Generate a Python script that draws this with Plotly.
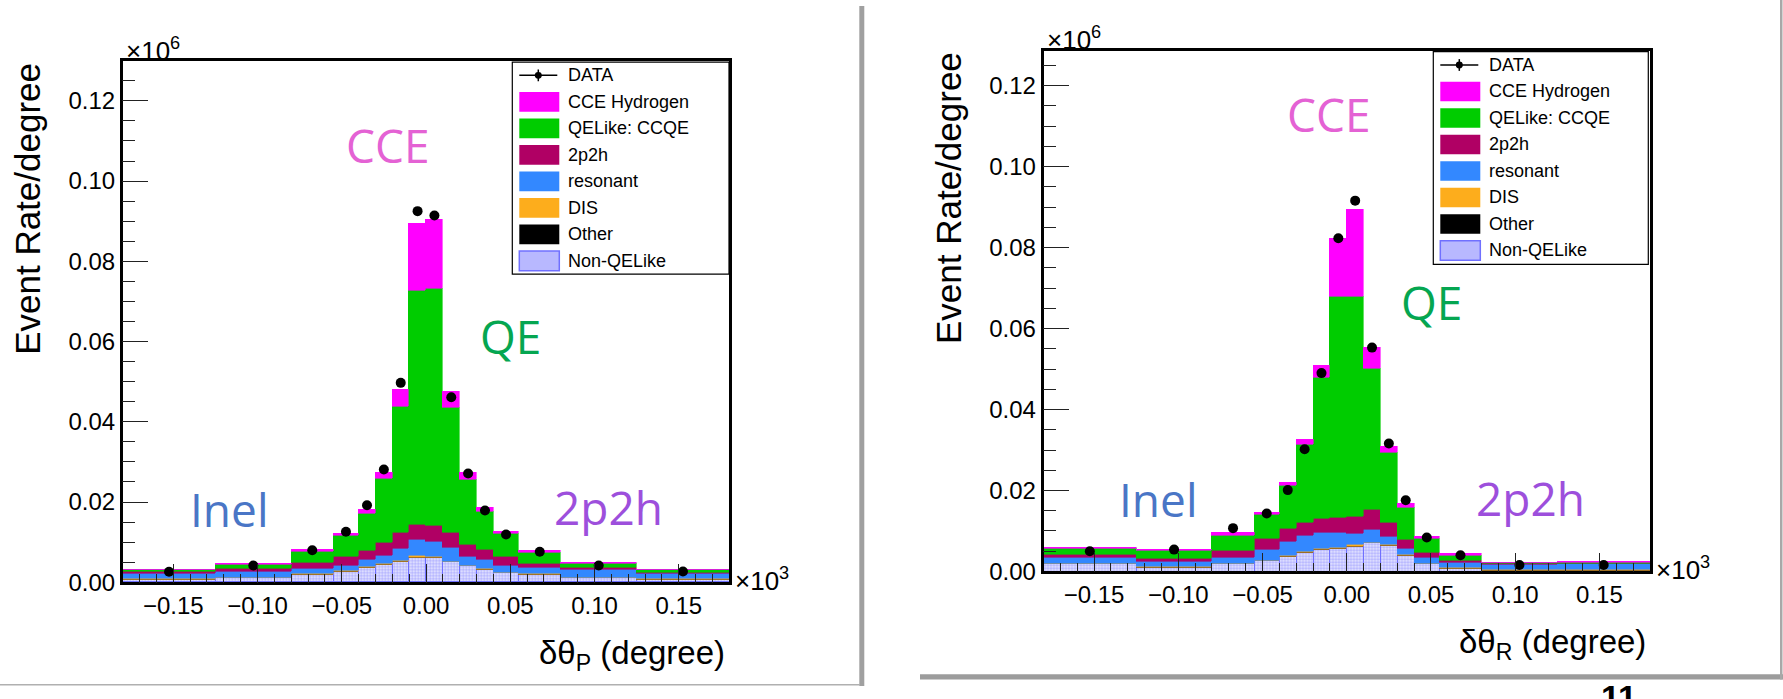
import plotly.graph_objects as go

W, H = 1783, 699

# ---------------- data ----------------
bin_edges = [-0.18, -0.125, -0.08, -0.055, -0.04, -0.03, -0.02, -0.01, 0.0,
             0.01, 0.02, 0.03, 0.04, 0.055, 0.08, 0.125, 0.18]
x_ticks = [-0.15, -0.10, -0.05, 0.0, 0.05, 0.10, 0.15]

# left panel: delta theta_P
p_data = [0.0026, 0.0042, 0.0080, 0.0126, 0.0192, 0.0281, 0.0497, 0.0925,
          0.0914, 0.0461, 0.0271, 0.0179, 0.0119, 0.0076, 0.0042, 0.0027]
p_nonqe = [0.0008, 0.0012, 0.0020, 0.0028, 0.0037, 0.0045, 0.0053, 0.0063,
           0.0061, 0.0051, 0.0041, 0.0033, 0.0024, 0.0020, 0.0012, 0.0008]
p_other = [0.00002, 0.00002, 0.00002, 0.00002, 0.00002, 0.00002, 0.00002, 0.00002,
           0.00002, 0.00002, 0.00002, 0.00002, 0.00002, 0.00002, 0.00002, 0.00002]
p_dis = [0.0001, 0.0001, 0.0001, 0.0001, 0.0002, 0.0002, 0.0002, 0.0003,
         0.0003, 0.0002, 0.0002, 0.0002, 0.0001, 0.0001, 0.0001, 0.0001]
p_res = [0.00128, 0.00148, 0.00138, 0.00138, 0.00178, 0.00198, 0.00298, 0.00398,
         0.00388, 0.00338, 0.00218, 0.00218, 0.00178, 0.00158, 0.00178, 0.00128]
p_2p2h = [0.0005, 0.0006, 0.0014, 0.0021, 0.0022, 0.0032, 0.0039, 0.0039,
          0.0039, 0.0038, 0.0030, 0.0024, 0.0022, 0.0010, 0.0006, 0.0004]
p_ccqe = [0.0004, 0.0011, 0.0028, 0.0052, 0.0092, 0.0159, 0.0314, 0.0582,
          0.0591, 0.0310, 0.0161, 0.0097, 0.0056, 0.0028, 0.0009, 0.0005]
p_cce = [0.0002, 0.0002, 0.0004, 0.0006, 0.0011, 0.0017, 0.0042, 0.0167,
         0.0172, 0.0042, 0.0019, 0.0009, 0.0006, 0.0004, 0.0003, 0.0002]

# right panel: delta theta_R
r_data = [0.0050, 0.0054, 0.0107, 0.0143, 0.0201, 0.0302, 0.0490, 0.0823,
          0.0916, 0.0553, 0.0316, 0.0176, 0.0084, 0.0040, 0.0016, 0.0016]
r_nonqe = [0.0018, 0.0010, 0.0018, 0.0026, 0.0036, 0.0046, 0.0054, 0.0056,
           0.0062, 0.0070, 0.0064, 0.0038, 0.0018, 0.0007, 0.0002, 0.0002]
r_other = [0.00002, 0.00002, 0.00002, 0.00002, 0.00002, 0.00002, 0.00002, 0.00002,
           0.00002, 0.00002, 0.00002, 0.00002, 0.00002, 0.00002, 0.00002, 0.00002]
r_dis = [0.0001, 0.0001, 0.0001, 0.0001, 0.0002, 0.0002, 0.0002, 0.0003,
         0.0003, 0.0002, 0.0002, 0.0002, 0.0001, 0.0001, 0.0001, 0.0001]
r_res = [0.00158, 0.00128, 0.00148, 0.00268, 0.00348, 0.00398, 0.00398, 0.00358,
         0.00278, 0.00318, 0.00198, 0.00158, 0.00148, 0.00138, 0.00138, 0.00148]
r_2p2h = [0.0007, 0.0008, 0.0016, 0.0026, 0.0032, 0.0033, 0.0034, 0.0038,
          0.0043, 0.0049, 0.0034, 0.0022, 0.0012, 0.0005, 0.0002, 0.0002]
r_ccqe = [0.0014, 0.0019, 0.0039, 0.0059, 0.0107, 0.0192, 0.0348, 0.0545,
          0.0542, 0.0347, 0.0174, 0.0080, 0.0035, 0.0013, 0.0002, 0.0002]
r_cce = [0.0002, 0.0003, 0.0006, 0.0006, 0.0008, 0.0012, 0.0029, 0.0145,
         0.0215, 0.0052, 0.0015, 0.0009, 0.0004, 0.0004, 0.0001, 0.0001]

legend_labels = ["DATA", "CCE Hydrogen", "QELike: CCQE", "2p2h", "resonant",
                 "DIS", "Other", "Non-QELike"]

# ---------------- styles ----------------
FONT = "Liberation Sans, Arial, Helvetica, sans-serif"
C_CCE = "#ff00ff"
C_CCQE = "#00cc00"
C_2P2H = "#b00064"
C_RES = "#3388ff"
C_DIS = "#fdad1c"
C_OTHER = "#000000"
C_NQE_LINE = "#7070ff"

centers = [(a + b) / 2 for a, b in zip(bin_edges[:-1], bin_edges[1:])]
widths = [b - a for a, b in zip(bin_edges[:-1], bin_edges[1:])]


def px(x):
    return x / W


def py(y):
    return 1 - y / H


fig = go.Figure()


def add_panel(xa, ya, data, nonqe, other, dis, res, t2p2h, ccqe, cce):
    layers = [
        (nonqe, "white", True),
        (other, C_OTHER, False),
        (dis, C_DIS, False),
        (res, C_RES, False),
        (t2p2h, C_2P2H, False),
        (ccqe, C_CCQE, False),
        (cce, C_CCE, False),
    ]
    for vals, col, hatched in layers:
        if hatched:
            marker = dict(color="#e4e4ff",
                          pattern=dict(shape=".", fgcolor="#6a6aff", bgcolor="#ececff",
                                       size=3, solidity=0.5),
                          line=dict(color=C_NQE_LINE, width=1))
        else:
            marker = dict(color=col, line=dict(color=col, width=0.6))
        fig.add_trace(go.Bar(x=centers, y=vals, width=widths, marker=marker,
                             xaxis=xa, yaxis=ya, showlegend=False,
                             hoverinfo="skip"))
    fig.add_trace(go.Scatter(x=centers, y=data, mode="markers",
                             marker=dict(color="black", size=10),
                             xaxis=xa, yaxis=ya, showlegend=False))


add_panel("x", "y", p_data, p_nonqe, p_other, p_dis, p_res, p_2p2h, p_ccqe, p_cce)
add_panel("x2", "y2", r_data, r_nonqe, r_other, r_dis, r_res, r_2p2h, r_ccqe, r_cce)

tickfont = dict(family=FONT, size=24, color="black")


def xaxis_cfg(x0, x1, anchor):
    return dict(domain=[px(x0), px(x1)], range=[-0.18, 0.18], anchor=anchor,
                tickvals=x_ticks, tickformat=".2f", ticks="inside", ticklen=19,
                tickwidth=1.3, tickcolor="#222", tickfont=tickfont,
                minor=dict(dtick=0.01, tick0=0, ticks="inside", ticklen=9,
                           tickwidth=1.1, tickcolor="#222"),
                showline=True, mirror=True, linecolor="black", linewidth=2.5,
                showgrid=False, zeroline=False, fixedrange=True)


def yaxis_cfg(ytop, ybot, ymax, anchor):
    return dict(domain=[py(ybot), py(ytop)], range=[0, ymax], anchor=anchor,
                dtick=0.02, tick0=0, tickformat=".2f", ticks="inside", ticklen=26,
                tickwidth=1.3, tickcolor="#222", tickfont=tickfont,
                minor=dict(dtick=0.005, tick0=0, ticks="inside", ticklen=13,
                           tickwidth=1.1, tickcolor="#222"),
                showline=True, mirror=True, linecolor="black", linewidth=2.5,
                showgrid=False, zeroline=False, fixedrange=True)


annotations = []
shapes = []


def ann(x, y, text, size, color="black", xanchor="center", yanchor="middle",
        family=FONT, angle=0):
    annotations.append(dict(x=px(x), y=py(y), xref="paper", yref="paper",
                            text=text, showarrow=False, xanchor=xanchor,
                            yanchor=yanchor, textangle=angle,
                            font=dict(family=family, size=size, color=color)))


def rect(x0, y0, x1, y1, fill, line=None, lw=0):
    shapes.append(dict(type="rect", xref="paper", yref="paper",
                       x0=px(x0), x1=px(x1), y0=py(y1), y1=py(y0),
                       fillcolor=fill,
                       line=dict(color=line if line else fill, width=lw),
                       layer="above"))


def panel_decor(fx0, fx1, fy0, fy1, xlabel, lg):
    # multipliers
    ann(fx0 + 1, fy0 - 12, "×10<sup>6</sup>", 26, xanchor="left")
    ann(fx1 + 4, fy1 - 3, "×10<sup>3</sup>", 26, xanchor="left")
    # axis title
    ann(fx1 - 2, fy1 + 74, xlabel, 33, xanchor="right")
    # legend
    lx0, ly0, lx1, ly1 = lg
    rect(lx0, ly0, lx1, ly1, "white", "black", 1.2)
    for i, lab in enumerate(legend_labels):
        yc = ly0 + 13.5 + 27 * i
        sx0 = lx0 + 7
        ann(sx0 + 47, yc, lab, 18, xanchor="left")
        if i == 0:
            shapes.append(dict(type="line", xref="paper", yref="paper",
                               x0=px(sx0), x1=px(sx0 + 38), y0=py(yc), y1=py(yc),
                               line=dict(color="black", width=1.5), layer="above"))
            shapes.append(dict(type="line", xref="paper", yref="paper",
                               x0=px(sx0 + 19), x1=px(sx0 + 19), y0=py(yc - 6), y1=py(yc + 6),
                               line=dict(color="black", width=1.5), layer="above"))
            shapes.append(dict(type="circle", xref="paper", yref="paper",
                               x0=px(sx0 + 15.5), x1=px(sx0 + 22.5), y0=py(yc - 3.5),
                               y1=py(yc + 3.5), fillcolor="black",
                               line=dict(color="black", width=0), layer="above"))
        else:
            col = {1: C_CCE, 2: C_CCQE, 3: C_2P2H, 4: C_RES, 5: C_DIS, 6: C_OTHER}.get(i)
            if col is None:
                rect(sx0, yc - 10, sx0 + 40, yc + 10, "#b8b8ff", C_NQE_LINE, 1.5)
            else:
                rect(sx0, yc - 10, sx0 + 40, yc + 10, col)


# geometry of the two frames (pixels)
L = (122.7, 729.3, 62.5, 593.3)
R = (1043.5, 1650.0, 51.7, 582.3)

fig.update_layout(
    xaxis=xaxis_cfg(L[0], L[1], "y"),
    yaxis=yaxis_cfg(L[2], L[3], (L[3] - L[2]) / 4088, "x"),
    xaxis2=xaxis_cfg(R[0], R[1], "y2"),
    yaxis2=yaxis_cfg(R[2], R[3], (R[3] - R[2]) / 4125, "x2"),
)

panel_decor(*L, "δθ<sub>P</sub> (degree)", (512.3, 63.3, 729.0, 279.3))
panel_decor(*R, "δθ<sub>R</sub> (degree)", (1433.3, 52.7, 1648.3, 269.3))

# y titles
ann(28, 62, "Event Rate/degree", 35, xanchor="center", yanchor="top", angle=-90)
ann(948, 51, "Event Rate/degree", 35, xanchor="center", yanchor="top", angle=-90)

# handwritten-style labels
OS = "Open Sans, Noto Sans, sans-serif"
ann(388, 148, "CCE", 46, "#e462d4", family=OS)
ann(511, 342, "QE", 46, "#05a651", family=OS)
ann(229, 519, "Inel", 46, "#4a76c6", family=OS)
ann(608, 517, "2p2h", 46, "#9d4fdc", family=OS)
ann(1329, 116, "CCE", 46, "#e462d4", family=OS)
ann(1431, 308, "QE", 46, "#05a651", family=OS)
ann(1158, 508, "Inel", 46, "#4a76c6", family=OS)
ann(1530, 507, "2p2h", 46, "#9d4fdc", family=OS)

# page decorations (slide borders)
rect(859.3, 6, 864.3, 699, "#a0a0a0")
rect(0, 697, 860, 698.5, "#b0b0b0")
rect(920, 687, 1783, 692.5, "#9c9c9c")
rect(1780, 0, 1782.5, 692.5, "#a8a8a8")
ann(1619, 710, "<b>11</b>", 34, yanchor="middle")

fig.update_layout(
    width=W, height=H, autosize=False,
    margin=dict(l=0, r=0, t=0, b=0),
    paper_bgcolor="white", plot_bgcolor="white",
    barmode="stack", bargap=0,
    showlegend=False,
    annotations=annotations, shapes=shapes,
    font=dict(family=FONT, color="black"),
)

fig.write_html("out.html")
